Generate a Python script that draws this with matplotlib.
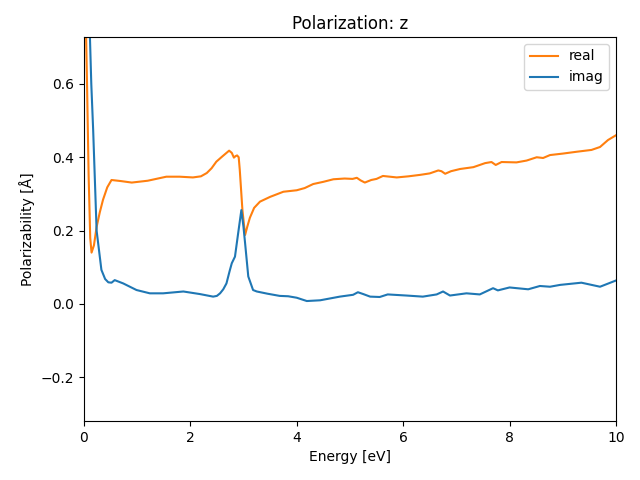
import matplotlib
matplotlib.use("Agg")
import matplotlib.pyplot as plt

# values
energy_re = [0.0, 0.02, 0.06, 0.09, 0.12, 0.145, 0.19, 0.24, 0.30, 0.36, 0.44, 0.52, 0.58, 0.70, 0.9,
             1.2, 1.55, 1.8, 2.05, 2.2, 2.31, 2.4, 2.49, 2.6, 2.73, 2.78, 2.82, 2.85, 2.88, 2.91,
             2.93, 2.96, 2.98, 3.03, 3.07, 3.12, 3.2, 3.31, 3.5, 3.75, 4.0, 4.15, 4.31, 4.5,
             4.69, 4.9, 5.05, 5.13, 5.2, 5.28, 5.4, 5.5, 5.62, 5.75, 5.88, 6.1, 6.32, 6.5,
             6.66, 6.72, 6.79, 6.9, 7.07, 7.32, 7.54, 7.66, 7.74, 7.85, 8.13, 8.32, 8.51, 8.63,
             8.76, 9.0, 9.26, 9.54, 9.7, 9.85, 10.0]
real = [1.5, 0.9, 0.6, 0.35, 0.18, 0.14, 0.16, 0.21, 0.25, 0.284, 0.318, 0.338, 0.337, 0.335, 0.331,
        0.336, 0.347, 0.347, 0.345, 0.348, 0.357, 0.37, 0.388, 0.402, 0.418, 0.412, 0.399, 0.403, 0.405, 0.40,
        0.366, 0.30, 0.256, 0.188, 0.21, 0.235, 0.262, 0.279, 0.292, 0.306, 0.31, 0.316, 0.327, 0.333,
        0.34, 0.342, 0.341, 0.344, 0.337, 0.331, 0.338, 0.341, 0.349, 0.347, 0.345, 0.348, 0.352, 0.356,
        0.364, 0.362, 0.355, 0.362, 0.368, 0.373, 0.384, 0.387, 0.379, 0.387, 0.386, 0.391, 0.40, 0.398,
        0.406, 0.41, 0.415, 0.42, 0.428, 0.447, 0.46]

energy_im = [0.0, 0.1, 0.14, 0.175, 0.24, 0.33, 0.40, 0.46, 0.52, 0.58, 0.74, 0.99, 1.24, 1.49, 1.87,
             2.18, 2.43, 2.5, 2.56, 2.62, 2.68, 2.74, 2.78, 2.84, 2.9, 2.96, 3.0, 3.03, 3.09, 3.18,
             3.25, 3.45, 3.68, 3.84, 4.0, 4.19, 4.44, 4.81, 5.06, 5.15, 5.25, 5.38, 5.56, 5.71,
             6.06, 6.37, 6.63, 6.75, 6.88, 7.19, 7.44, 7.69, 7.78, 8.0, 8.35, 8.57, 8.76, 8.95,
             9.35, 9.7, 10.0]
imag = [2.0, 0.8, 0.6, 0.475, 0.2, 0.093, 0.068, 0.059, 0.058, 0.065, 0.056, 0.038, 0.029, 0.029, 0.034,
        0.027, 0.02, 0.022, 0.029, 0.04, 0.056, 0.09, 0.111, 0.129, 0.193, 0.256, 0.21, 0.166, 0.075, 0.038,
        0.034, 0.028, 0.022, 0.021, 0.017, 0.008, 0.01, 0.02, 0.025, 0.032, 0.027, 0.02, 0.019, 0.026,
        0.023, 0.02, 0.026, 0.034, 0.023, 0.029, 0.026, 0.043, 0.037, 0.045, 0.04, 0.049, 0.047, 0.052,
        0.058, 0.047, 0.064]

fig, ax = plt.subplots(figsize=(6.4, 4.8), dpi=100)
ax.plot(energy_re, real, color="C1", label="real")
ax.plot(energy_im, imag, color="C0", label="imag")
ax.set_xlim(0, 10)
ax.set_ylim(-0.319, 0.728)
ax.set_title("Polarization: z")
ax.set_xlabel("Energy [eV]")
ax.set_ylabel("Polarizability [Å]")
ax.legend(loc="upper right")
fig.subplots_adjust(left=0.131, right=0.9625, top=0.923, bottom=0.123)
fig.savefig("out.png")
